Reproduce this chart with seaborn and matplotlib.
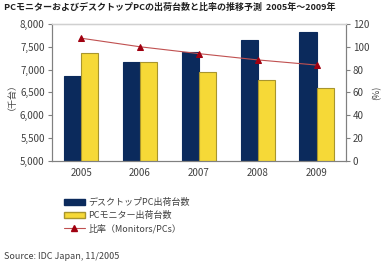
import matplotlib
matplotlib.use("Agg")
import matplotlib.pyplot as plt
import seaborn as sns
import pandas as pd
from matplotlib.patches import Patch
from matplotlib.lines import Line2D

years = ["2005", "2006", "2007", "2008", "2009"]
desktop = [6870, 7175, 7395, 7655, 7830]
monitor = [7365, 7160, 6955, 6775, 6600]
ratio = [107.5, 100.0, 94.0, 88.5, 84.0]
series_names = ["デスクトップPC出荷台数", "PCモニター出荷台数", "比率（Monitors/PCs）"]
title = "PCモニターおよびデスクトップPCの出荷台数と比率の推移予測  2005年～2009年"
source = "Source: IDC Japan, 11/2005"

sns.set_style("white")
plt.rcParams['font.family'] = ['Noto Sans CJK JP', 'DejaVu Sans']

NAVY = "#0B2A5C"
YEL = "#F6D937"
YEL_EDGE = "#A8952E"
GREY = "#808080"
TXT = "#404040"

df = pd.DataFrame({
    "year": years * 2,
    "value": desktop + monitor,
    "series": [series_names[0]] * 5 + [series_names[1]] * 5,
})

fig = plt.figure(figsize=(3.84, 2.63), dpi=100)
ax = fig.add_axes([0.1346, 0.388, 0.7664, 0.521])
sns.barplot(data=df, x="year", y="value", hue="series", order=years,
            hue_order=series_names[:2], palette=[NAVY, YEL], width=0.58,
            gap=0, ax=ax, legend=False, saturation=1)
for cont, ec in zip(ax.containers, [NAVY, YEL_EDGE]):
    for p in cont:
        p.set_edgecolor(ec)
        p.set_linewidth(0.8)

ax.set_ylim(5000, 8000)
ax.set_yticks(range(5000, 8001, 500))
ax.set_yticklabels([f"{v:,}" for v in range(5000, 8001, 500)])
ax.set_xlim(-0.5, 4.5)
ax.set_xlabel("")
ax.set_ylabel("（千台）", fontsize=6.5, color=TXT, labelpad=6)
ax.tick_params(axis="y", length=3, width=0.8, color=GREY, labelsize=7, labelcolor=TXT, pad=2)
ax.set_xticks(range(5))
ax.set_xticks([i - 0.5 for i in range(6)], minor=True)
ax.tick_params(axis="x", which="major", length=0, labelsize=7, labelcolor=TXT, pad=5)
ax.tick_params(axis="x", which="minor", length=3, width=0.8, color=GREY)
for s in ["left", "bottom", "right"]:
    ax.spines[s].set_color(GREY)
    ax.spines[s].set_linewidth(0.8)
ax.spines["top"].set_color("#D0D0D0")
ax.spines["top"].set_linewidth(1.0)

ax2 = ax.twinx()
sns.lineplot(x=list(range(5)), y=ratio, ax=ax2, color="#C05050", linewidth=0.8,
             marker="^", markersize=5, markerfacecolor="#A00010",
             markeredgecolor="#A00010")
ax2.set_ylim(0, 120)
ax2.set_yticks(range(0, 121, 20))
ax2.set_ylabel("(%)", fontsize=6.5, color=TXT, labelpad=2)
ax2.tick_params(axis="y", length=3, width=0.8, color=GREY, labelsize=7, labelcolor=TXT, pad=2)
for s in ["left", "bottom", "right"]:
    ax2.spines[s].set_color(GREY)
    ax2.spines[s].set_linewidth(0.8)
ax2.spines["top"].set_color("#D0D0D0")
ax2.set_xlim(-0.5, 4.5)

fig.text(0.01, 0.972, title, fontsize=6.5, fontweight="bold", color="#202020", va="center")

handles = [
    Patch(facecolor=NAVY, edgecolor=NAVY),
    Patch(facecolor=YEL, edgecolor=YEL_EDGE),
    Line2D([0], [0], color="#C05050", lw=0.8, marker="^", markersize=4,
           markerfacecolor="#A00010", markeredgecolor="#A00010"),
]
fig.legend(handles, series_names, loc="upper left", bbox_to_anchor=(0.155, 0.263),
           frameon=False, fontsize=6.5, handlelength=2.3, handleheight=0.6,
           labelspacing=0.4, handletextpad=0.4, borderpad=0, labelcolor=TXT)

fig.text(0.01, 0.025, source, fontsize=6.5, color=TXT, va="center")

fig.savefig("out.png", dpi=100)
